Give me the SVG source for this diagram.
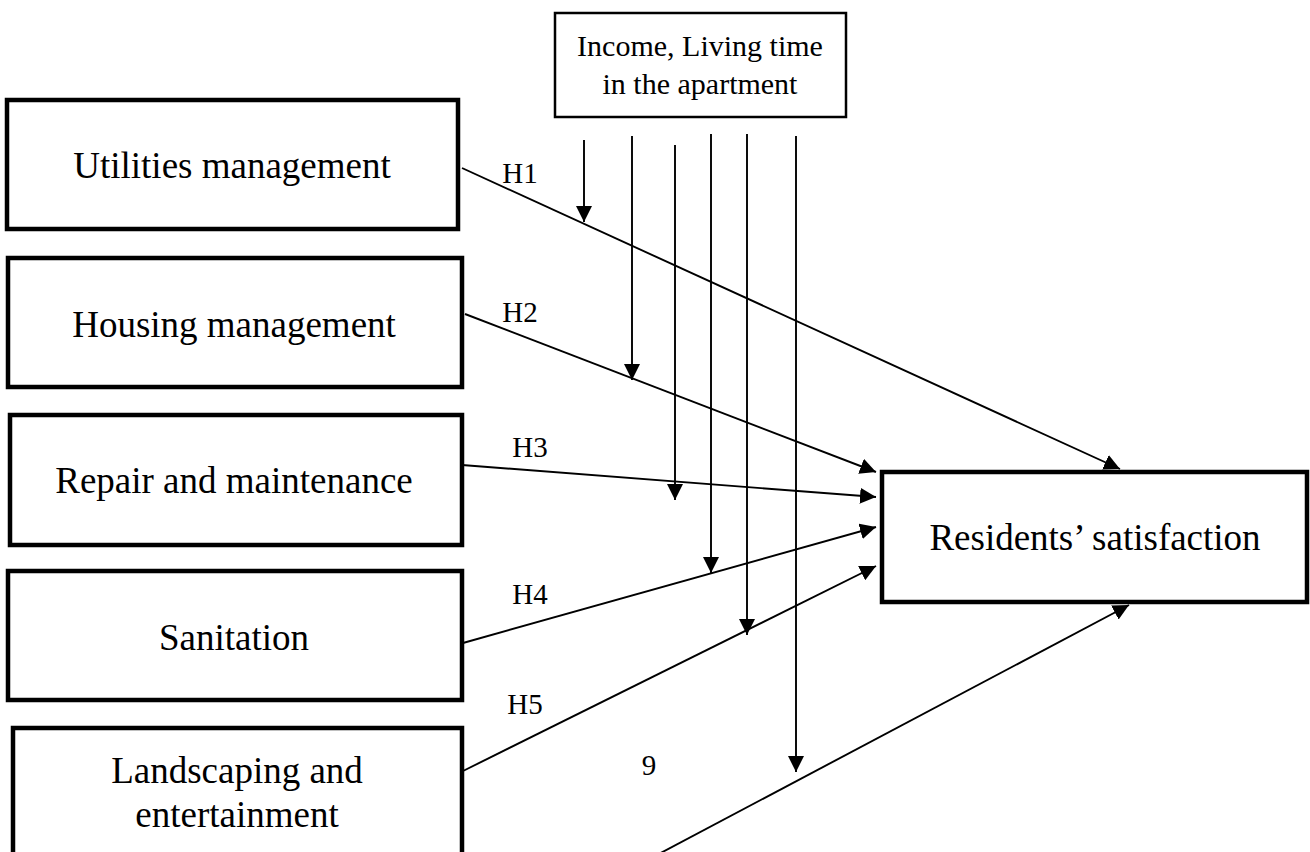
<svg xmlns="http://www.w3.org/2000/svg" width="1310" height="852" viewBox="0 0 1310 852">
<style>
.box{fill:#fff;stroke:#000;stroke-width:4.5}
.mod{fill:#fff;stroke:#000;stroke-width:2.5}
.t{font-family:"Liberation Serif","Times New Roman",serif;fill:#000;text-anchor:middle}
.big{font-size:37px}
.mid{font-size:30px}
.lab{font-size:29px}
.c{stroke:#000;stroke-width:1.9;fill:none}
.a{marker-end:url(#ah)}
</style>
<defs>
<marker id="ah" markerUnits="userSpaceOnUse" viewBox="0 0 16 16" refX="16" refY="8" markerWidth="16" markerHeight="16" orient="auto">
<path d="M0,0 L16,8 L0,16 z" fill="#000"/>
</marker>
</defs>
<rect width="1310" height="852" fill="#fff"/>
<g id="moderator">
<rect class="mod" x="555" y="13" width="291" height="104"/>
<text class="t mid" x="700" y="56">Income, Living time</text>
<text class="t mid" x="700" y="94">in the apartment</text>
</g>
<g id="utilities">
<rect class="box" x="7" y="100" width="451" height="129"/>
<text class="t big" x="232" y="178">Utilities management</text>
</g>
<g id="housing">
<rect class="box" x="8" y="258" width="454" height="129"/>
<text class="t big" x="234" y="337">Housing management</text>
</g>
<g id="repair">
<rect class="box" x="10" y="415" width="452" height="130"/>
<text class="t big" x="234" y="493">Repair and maintenance</text>
</g>
<g id="sanitation">
<rect class="box" x="8" y="571" width="454" height="129"/>
<text class="t big" x="234" y="650">Sanitation</text>
</g>
<g id="landscaping">
<rect class="box" x="13" y="728" width="449" height="140"/>
<text class="t big" x="237" y="783">Landscaping and</text>
<text class="t big" x="237" y="827">entertainment</text>
</g>
<g id="satisfaction">
<rect class="box" x="882" y="472" width="425" height="130"/>
<text class="t big" x="1095" y="550">Residents’ satisfaction</text>
</g>
<g id="connectors">
<line class="c a" x1="462" y1="168" x2="1120" y2="469"/>
<line class="c a" x1="465" y1="314" x2="876" y2="472"/>
<line class="c a" x1="462" y1="465" x2="876" y2="497"/>
<line class="c a" x1="463" y1="643" x2="876" y2="527"/>
<line class="c a" x1="463" y1="771" x2="876" y2="566"/>
<line class="c a" x1="655" y1="856" x2="1129" y2="605"/>
<line class="c a" x1="584" y1="140" x2="584" y2="222"/>
<line class="c a" x1="632" y1="136" x2="632" y2="380"/>
<line class="c a" x1="675" y1="145" x2="675" y2="500"/>
<line class="c a" x1="711" y1="134" x2="711" y2="573"/>
<line class="c a" x1="747" y1="134" x2="747" y2="635"/>
<line class="c a" x1="796" y1="136" x2="796" y2="772"/>
</g>
<g id="labels">
<text class="t lab" x="520" y="183">H1</text>
<text class="t lab" x="520" y="322">H2</text>
<text class="t lab" x="530" y="457">H3</text>
<text class="t lab" x="530" y="604">H4</text>
<text class="t lab" x="525" y="714">H5</text>
<text class="t lab" x="649" y="775">9</text>
</g>
</svg>
